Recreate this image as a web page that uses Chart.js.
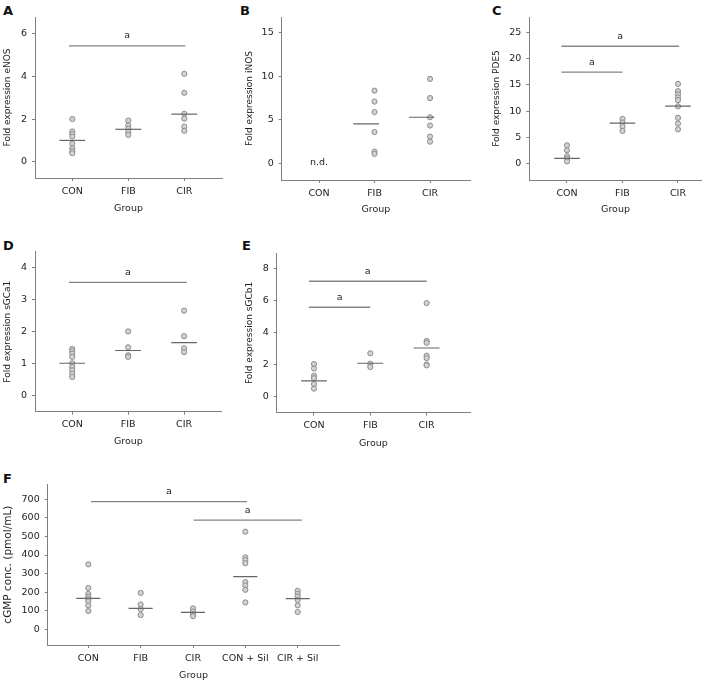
<!DOCTYPE html>
<html><head><meta charset="utf-8">
<script src="https://cdn.jsdelivr.net/npm/chart.js@4.4.1/dist/chart.umd.min.js"></script>
<style>
html,body{margin:0;padding:0;background:#fff;}
body{width:718px;height:683px;position:relative;overflow:hidden;}
canvas{position:absolute;}
.lbl{position:absolute;font:bold 13px "DejaVu Sans",sans-serif;line-height:13px;color:#111;}
</style></head><body>
<div class="lbl" style="left:3px;top:3.5px">A</div>
<div class="lbl" style="left:240px;top:3.5px">B</div>
<div class="lbl" style="left:492px;top:3.5px">C</div>
<div class="lbl" style="left:3px;top:238.5px">D</div>
<div class="lbl" style="left:242px;top:238.5px">E</div>
<div class="lbl" style="left:3px;top:471.5px">F</div>
<canvas id="cA"></canvas><canvas id="cB"></canvas><canvas id="cC"></canvas>
<canvas id="cD"></canvas><canvas id="cE"></canvas><canvas id="cF"></canvas>
<script>
// ---------- data ----------
const groups3 = ['CON', 'FIB', 'CIR'];
const groupsF = ['CON', 'FIB', 'CIR', 'CON + Sil', 'CIR + Sil'];

const eNOS_CON = [2.0, 1.42, 1.3, 1.18, 0.85, 0.63, 0.5, 0.4];
const eNOS_FIB = [1.93, 1.7, 1.55, 1.4, 1.26];
const eNOS_CIR = [4.12, 3.23, 2.25, 2.02, 1.65, 1.45];
const eNOS_median = [1.0, 1.52, 2.23];
const eNOS_ticks = [0, 2, 4, 6];
const eNOS_sig = [[-0.06, 2.02, 5.43]];

const iNOS_CON = [];
const iNOS_FIB = [8.35, 7.1, 5.9, 3.6, 1.35, 1.1];
const iNOS_CIR = [9.7, 7.5, 5.3, 4.35, 3.08, 2.5];
const iNOS_median = [null, 4.55, 5.3];
const iNOS_ticks = [0, 5, 10, 15];
const iNOS_sig = [];
const iNOS_notes = [[0, 0, 'n.d.']];

const PDE5_CON = [3.45, 2.5, 1.35, 0.9, 0.35];
const PDE5_FIB = [8.5, 7.8, 7.05, 6.2];
const PDE5_CIR = [15.2, 13.8, 13.2, 12.6, 12.1, 10.9, 8.7, 7.6, 6.5];
const PDE5_median = [0.95, 7.7, 10.95];
const PDE5_ticks = [0, 5, 10, 15, 20, 25];
const PDE5_sig = [[-0.1, 2.02, 22.4], [-0.1, 1.0, 17.45]];

const sGCa1_CON = [1.45, 1.38, 1.3, 1.2, 1.0, 0.88, 0.78, 0.67, 0.57];
const sGCa1_FIB = [2.0, 1.5, 1.25, 1.2];
const sGCa1_CIR = [2.65, 1.85, 1.47, 1.35];
const sGCa1_median = [1.0, 1.4, 1.65];
const sGCa1_ticks = [0, 1, 2, 3, 4];
const sGCa1_sig = [[-0.06, 2.05, 3.54]];

const sGCb1_CON = [2.03, 1.75, 1.3, 1.15, 0.78, 0.5];
const sGCb1_FIB = [2.7, 2.05, 1.85];
const sGCb1_CIR = [5.83, 3.47, 3.35, 2.55, 2.4, 2.0, 1.95];
const sGCb1_median = [0.98, 2.08, 3.03];
const sGCb1_ticks = [0, 2, 4, 6, 8];
const sGCb1_sig = [[-0.09, 2.0, 7.19], [-0.09, 1.0, 5.57]];

const cGMP_CON = [350, 222, 190, 175, 162, 150, 128, 98];
const cGMP_FIB = [195, 133, 108, 76];
const cGMP_CIR = [112, 95, 80, 70];
const cGMP_CONSil = [526, 387, 373, 356, 254, 236, 212, 144];
const cGMP_CIRSil = [207, 190, 175, 157, 128, 92];
const cGMP_median = [166, 112, 90, 283, 165];
const cGMP_ticks = [0, 100, 200, 300, 400, 500, 600, 700];
const cGMP_sig = [[0.05, 3.03, 688], [2.01, 4.08, 588]];

// ---------- drawing ----------
const FONT = '"DejaVu Sans", sans-serif';
Chart.defaults.font.family = FONT;
Chart.defaults.font.size = 9.5;
Chart.defaults.color = '#222';
const TICK_SIZE = 9.5;
const AXIS_COL = '#7f7f7f';

function panel(cfg) {
  const c = document.getElementById(cfg.id);
  c.width = cfg.canvas.w; c.height = cfg.canvas.h;
  c.style.left = cfg.canvas.l + 'px'; c.style.top = cfg.canvas.t + 'px';
  const yLH = cfg.yTitleSize * 1.2, xLH = TICK_SIZE * 1.2;
  const padLeft = cfg.yTitleX - yLH / 2 - cfg.canvas.l;
  const yW = cfg.plot.l - cfg.canvas.l - padLeft;
  const padTop = cfg.plot.t - cfg.canvas.t;
  const padRight = cfg.canvas.l + cfg.canvas.w - cfg.plot.r;
  const xBottom = cfg.groupY + xLH / 2;
  const xH = xBottom - cfg.plot.b;
  const padBottom = cfg.canvas.t + cfg.canvas.h - xBottom;
  const shift = cfg.medShift || 0;

  const datasets = [];
  cfg.medians.forEach((m, i) => {
    if (m == null) return;
    datasets.push({ data: [{ x: i + shift - 0.23, y: m }, { x: i + shift + 0.23, y: m }],
      showLine: true, pointRadius: 0, borderColor: '#666666', borderWidth: 1.2 });
  });
  cfg.sig.forEach(([a, b, v]) => {
    datasets.push({ data: [{ x: a, y: v }, { x: b, y: v }],
      showLine: true, pointRadius: 0, borderColor: '#858585', borderWidth: 1.3 });
  });
  const pts = [];
  cfg.series.forEach((arr, i) => arr.forEach(v => pts.push({ x: i, y: v })));
  datasets.push({ data: pts, pointRadius: 2.6, pointBackgroundColor: '#d2d2d2',
    pointBorderColor: '#8c8c8c', pointBorderWidth: 1 });

  const zeroPad = s => { s.paddingLeft = 0; s.paddingRight = 0; s.paddingTop = 0; s.paddingBottom = 0; };
  const textPlugin = {
    id: 'panelText',
    afterDatasetsDraw(chart) {
      const { ctx } = chart; const xs = chart.scales.x, ys = chart.scales.y;
      ctx.save();
      ctx.fillStyle = '#222';
      ctx.font = TICK_SIZE + 'px ' + FONT;
      ctx.textAlign = 'center';
      ctx.textBaseline = 'alphabetic';
      cfg.sig.forEach(([a, b, v]) => {
        const px = (xs.getPixelForValue(a) + xs.getPixelForValue(b)) / 2;
        ctx.fillText('a', px, ys.getPixelForValue(v) - 7.5);
      });
      (cfg.notes || []).forEach(([i, v, t]) => {
        ctx.fillText(t, xs.getPixelForValue(i), ys.getPixelForValue(v) + 2);
      });
      ctx.restore();
    }
  };
  const grid = { display: true, drawOnChartArea: false, drawTicks: true, tickLength: 3, color: AXIS_COL, lineWidth: 1 };
  const border = { display: true, color: AXIS_COL, width: 1 };

  new Chart(c, {
    type: 'scatter',
    data: { datasets },
    plugins: [textPlugin],
    options: {
      responsive: false, animation: false, devicePixelRatio: 1,
      layout: { padding: { left: padLeft, top: padTop, right: padRight, bottom: padBottom } },
      plugins: { legend: { display: false }, tooltip: { enabled: false } },
      scales: {
        x: {
          type: 'linear', min: cfg.xMin, max: cfg.xMax, offset: false,
          afterBuildTicks: s => { s.ticks = cfg.cats.map((_, i) => ({ value: i })); },
          ticks: { callback: v => cfg.cats[v], maxRotation: 0, minRotation: 0, autoSkip: false,
            padding: 4.5, color: '#222', font: { size: TICK_SIZE } },
          grid, border,
          title: { display: true, text: 'Group', padding: 0, color: '#222', font: { size: TICK_SIZE, lineHeight: 1.2 } },
          afterFit: s => { s.height = xH; zeroPad(s); }
        },
        y: {
          type: 'linear', min: cfg.yMin, max: cfg.yMax,
          afterBuildTicks: s => { s.ticks = cfg.yTicks.map(v => ({ value: v })); },
          ticks: { callback: v => String(v), padding: 5, color: '#222', font: { size: TICK_SIZE } },
          grid, border,
          title: { display: true, text: cfg.yTitle, padding: 0, color: '#222', font: { size: cfg.yTitleSize, lineHeight: 1.2 } },
          afterFit: s => { s.width = yW; zeroPad(s); }
        }
      }
    }
  });
}

panel({ id: 'cA', canvas: { l: 0, t: 0, w: 232, h: 222 }, plot: { l: 35, t: 17, r: 222, b: 178 },
  yTitleX: 8, yTitleSize: 9, groupY: 209, xMin: -0.666, xMax: 2.673, yMin: -0.76, yMax: 6.78,
  cats: groups3, series: [eNOS_CON, eNOS_FIB, eNOS_CIR], medians: eNOS_median, yTicks: eNOS_ticks,
  sig: eNOS_sig, yTitle: 'Fold expression eNOS' });

panel({ id: 'cB', canvas: { l: 238, t: 0, w: 237, h: 222 }, plot: { l: 281.7, t: 17, r: 470, b: 180 },
  yTitleX: 250, yTitleSize: 9, groupY: 209.3, xMin: -0.672, xMax: 2.72, yMin: -1.9, yMax: 16.8,
  cats: groups3, series: [iNOS_CON, iNOS_FIB, iNOS_CIR], medians: iNOS_median, yTicks: iNOS_ticks,
  sig: iNOS_sig, notes: iNOS_notes, medShift: -0.15, yTitle: 'Fold expression iNOS' });

panel({ id: 'cC', canvas: { l: 484, t: 0, w: 234, h: 222 }, plot: { l: 529.3, t: 17, r: 701.7, b: 180 },
  yTitleX: 497, yTitleSize: 9, groupY: 209.3, xMin: -0.679, xMax: 2.427, yMin: -3.2, yMax: 28.0,
  cats: groups3, series: [PDE5_CON, PDE5_FIB, PDE5_CIR], medians: PDE5_median, yTicks: PDE5_ticks,
  sig: PDE5_sig, yTitle: 'Fold expression PDE5' });

panel({ id: 'cD', canvas: { l: 0, t: 232, w: 232, h: 222 }, plot: { l: 35, t: 251.7, r: 221.7, b: 411.7 },
  yTitleX: 8, yTitleSize: 9, groupY: 441.7, xMin: -0.666, xMax: 2.673, yMin: -0.52, yMax: 4.5,
  cats: groups3, series: [sGCa1_CON, sGCa1_FIB, sGCa1_CIR], medians: sGCa1_median, yTicks: sGCa1_ticks,
  sig: sGCa1_sig, yTitle: 'Fold expression sGCa1' });

panel({ id: 'cE', canvas: { l: 238, t: 232, w: 237, h: 222 }, plot: { l: 276.7, t: 253.3, r: 470, b: 412.7 },
  yTitleX: 250, yTitleSize: 9, groupY: 443.3, xMin: -0.662, xMax: 2.77, yMin: -1.0, yMax: 8.93,
  cats: groups3, series: [sGCb1_CON, sGCb1_FIB, sGCb1_CIR], medians: sGCb1_median, yTicks: sGCb1_ticks,
  sig: sGCb1_sig, yTitle: 'Fold expression sGCb1' });

panel({ id: 'cF', canvas: { l: 0, t: 464, w: 350, h: 219 }, plot: { l: 47.7, t: 484.3, r: 339.3, b: 645 },
  yTitleX: 8.3, yTitleSize: 10.5, groupY: 676, xMin: -0.776, xMax: 4.795, yMin: -86, yMax: 782,
  cats: groupsF, series: [cGMP_CON, cGMP_FIB, cGMP_CIR, cGMP_CONSil, cGMP_CIRSil], medians: cGMP_median,
  yTicks: cGMP_ticks, sig: cGMP_sig, yTitle: 'cGMP conc. (pmol/mL)' });
</script>
</body></html>
